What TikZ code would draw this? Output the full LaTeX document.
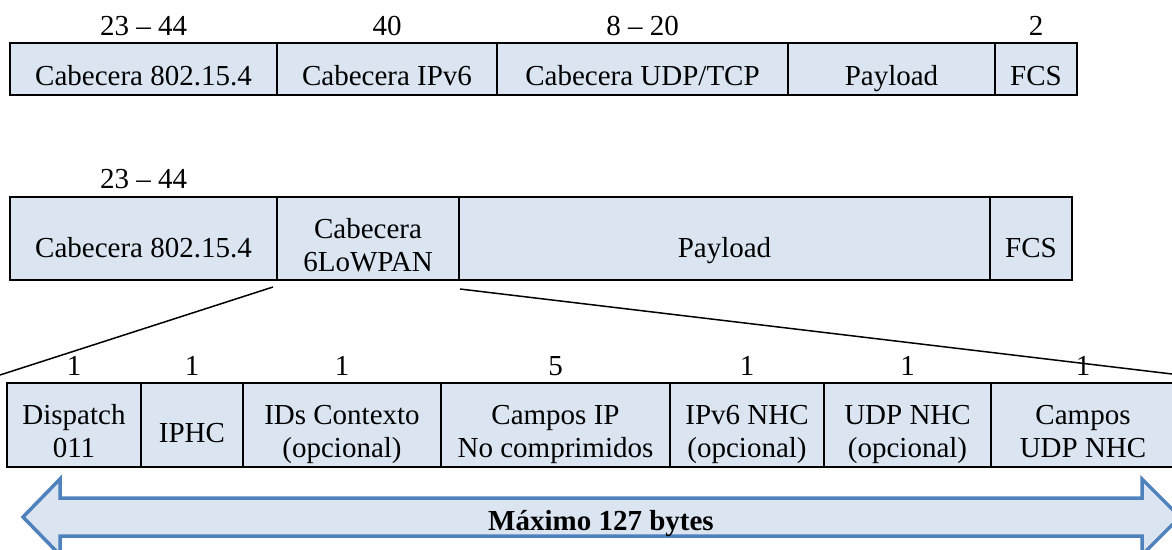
\documentclass[tikz,border=0pt]{standalone}
\usepackage{fontspec}
\setmainfont{Liberation Serif}
\usetikzlibrary{calc}
\definecolor{cellfill}{HTML}{DBE5F1}
\definecolor{arrowline}{HTML}{4F81BD}

\begin{document}
\begin{tikzpicture}[x=1pt,y=-1pt,
  cell/.style 2 args={draw=black, line width=2pt, fill=cellfill, inner sep=0pt,
    anchor=north west, minimum width=#1, minimum height=#2},
  txt/.style={inner sep=0pt, anchor=base, font=\fontsize{29}{33}\selectfont},
  bytes/.style={txt},
  zoomline/.style={draw=black, line width=1.5pt},
  bigarrow/.style={fill=cellfill, draw=arrowline, line width=3.5pt, line join=miter},
]
\useasboundingbox (0,0) rectangle (1172,549);
\clip (0,0) rectangle (1172,549);

% Length arrow under the compressed frame
\draw[bigarrow] (23,517) -- (60,479) -- (60,498) -- (1142,498) -- (1142,479)
  -- (1180,517) -- (1142,555) -- (1142,536) -- (60,536) -- (60,555) -- cycle;
\node[txt, font=\fontsize{29}{33}\selectfont\bfseries] (maxlen) at (601,530) {Máximo 127 bytes};

% Uncompressed IPv6 frame
\node[cell={267}{52}] (a1) at (9,42) {};
\node[cell={220}{52}] (a2) at (276,42) {};
\node[cell={291}{52}] (a3) at (496,42) {};
\node[cell={207}{52}] (a4) at (787,42) {};
\node[cell={82}{52}]  (a5) at (994,42) {};
\foreach \c/\t in {a1/{Cabecera 802.15.4}, a2/{Cabecera IPv6}, a3/{Cabecera UDP/TCP}, a4/{Payload}, a5/{FCS}}
  \node[txt] at ($(\c.north)+(0,43)$) {\t};
\node[bytes] (s1) at ($(a1.north)+(0,-7)$) {23 – 44};
\node[bytes] (s2) at ($(a2.north)+(0,-7)$) {40};
\node[bytes] (s3) at ($(a3.north)+(0,-7)$) {8 – 20};
\node[bytes] (s5) at ($(a5.north)+(0,-7)$) {2};

% 6LoWPAN frame
\node[cell={267}{83}] (b1) at (9,196) {};
\node[cell={182}{83}] (b2) at (276,196) {};
\node[cell={531}{83}] (b3) at (458,196) {};
\node[cell={82}{83}]  (b4) at (989,196) {};
\node[txt] at ($(b1.north)+(0,61)$) {Cabecera 802.15.4};
\node[txt] at ($(b2.north)+(0,42)$) {Cabecera};
\node[txt] at ($(b2.north)+(0,75)$) {6LoWPAN};
\node[txt] at ($(b3.north)+(0,61)$) {Payload};
\node[txt] at ($(b4.north)+(0,61)$) {FCS};
\node[bytes] (t1) at ($(b1.north)+(0,-8)$) {23 – 44};

% Expanded 6LoWPAN header
\node[cell={134}{84}] (c1) at (6,382) {};
\node[cell={102}{84}] (c2) at (140,382) {};
\node[cell={198}{84}] (c3) at (242,382) {};
\node[cell={229}{84}] (c4) at (440,382) {};
\node[cell={154}{84}] (c5) at (669,382) {};
\node[cell={167}{84}] (c6) at (823,382) {};
\node[cell={184}{84}] (c7) at (990,382) {};
\node[txt] at ($(c1.north)+(0,42)$) {Dispatch};
\node[txt] at ($(c1.north)+(0,75)$) {011};
\node[txt] at ($(c2.north)+(0,60)$) {IPHC};
\node[txt] at ($(c3.north)+(0,42)$) {IDs Contexto};
\node[txt] at ($(c3.north)+(0,75)$) {(opcional)};
\node[txt] at ($(c4.north)+(0,42)$) {Campos IP};
\node[txt] at ($(c4.north)+(0,75)$) {No comprimidos};
\node[txt] at ($(c5.north)+(0,42)$) {IPv6 NHC};
\node[txt] at ($(c5.north)+(0,75)$) {(opcional)};
\node[txt] at ($(c6.north)+(0,42)$) {UDP NHC};
\node[txt] at ($(c6.north)+(0,75)$) {(opcional)};
\node[txt] at ($(c7.north)+(0,42)$) {Campos};
\node[txt] at ($(c7.north)+(0,75)$) {UDP NHC};
\foreach \c/\n in {c1/1, c2/1, c3/1, c4/5, c5/1, c6/1, c7/1}
  \node[bytes] at ($(\c.north)+(0,-7)$) {\n};

% Zoom lines from the 6LoWPAN header to its expansion
\coordinate (zl) at (0,375);
\coordinate (zr) at (1172,374);
\draw[zoomline] ([shift={(-3,6)}]b2.south west) -- (zl);
\draw[zoomline] ([shift={(0,8)}]b2.south east) -- (zr);
\end{tikzpicture}
\end{document}
